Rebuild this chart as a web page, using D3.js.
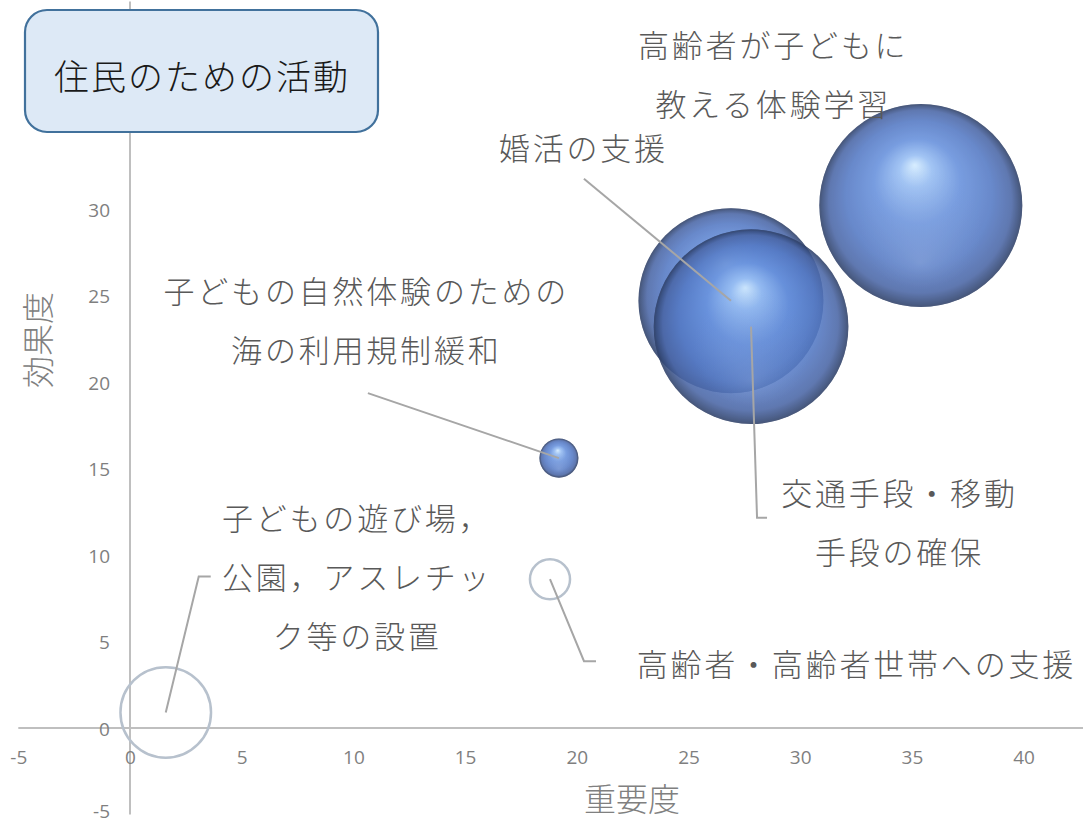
<!DOCTYPE html>
<html><head><meta charset="utf-8">
<script src="https://cdn.jsdelivr.net/npm/d3@7"></script>
<style>
html,body{margin:0;padding:0;background:#fff;}
svg{display:block;}
</style></head>
<body>
<svg id="chart" width="1083" height="823"></svg>
<script>
// ---- data ----
const names = [
  "子どもの遊び場，公園，アスレチック等の設置",
  "高齢者・高齢者世帯への支援",
  "子どもの自然体験のための海の利用規制緩和",
  "婚活の支援",
  "交通手段・移動手段の確保",
  "高齢者が子どもに教える体験学習"
];
const importance = [1.6, 18.8, 19.2, 26.9, 27.8, 35.4];   // 重要度 (x)
const effect     = [0.9, 8.6, 15.6, 24.7, 23.2, 30.2];    // 効果度 (y)
const bubbleSize = [-19.9, -3.9, 3.7, 83, 92, 100];      // negative = hollow
const labelLines = [
  ["子どもの遊び場，", "公園，アスレチッ", "ク等の設置"],
  ["高齢者・高齢者世帯への支援"],
  ["子どもの自然体験のための", "海の利用規制緩和"],
  ["婚活の支援"],
  ["交通手段・移動", "手段の確保"],
  ["高齢者が子どもに", "教える体験学習"]
];
const xTicks = [-5, 0, 5, 10, 15, 20, 25, 30, 35, 40];
const yTicks = [-5, 0, 5, 10, 15, 20, 25, 30, 35, 40];
const title = "住民のための活動";
const xTitle = "重要度";
const yTitle = "効果度";

// ---- layout (label placement relative to bubble centre, px) ----
const labelLayout = [
  {dx: 190, dy: -196, leader: [[33, -136], [45, -136]]},
  {dx: 305, dy: 83,   leader: [[34, 82], [46, 82]]},
  {dx: -194, dy: -169, leader: [[-191, -65]]},
  {dx: -149, dy: -155, leader: [[-147, -122]]},
  {dx: 147, dy: 164,  leader: [[6, 191], [16, 191]]},
  {dx: -149, dy: -163, leader: null}
];
const lineGap = 59;

const svg = d3.select("#chart");
const defs = svg.append("defs");

const x = d3.scaleLinear().domain([-5, 42.7]).range([18.3, 1083.9]);
const y = d3.scaleLinear().domain([-5, 42]).range([814.5, 1.4]);
const rMax = 101.5;
const r = d3.scaleSqrt().domain([0, d3.max(bubbleSize, d => Math.abs(d))]).range([0, rMax]);

// sphere gradient
const g1 = defs.append("radialGradient").attr("id", "sphere")
  .attr("cx", "0.5").attr("cy", "0.5").attr("r", "0.5")
  .attr("fx", "0.47").attr("fy", "0.3");
[["0%", "#d2ebff"], ["16%", "#96bdf3"], ["42%", "#6690dc"], ["72%", "#5479c4"], ["90%", "#4a66a6"], ["100%", "#2c3f68"]]
  .forEach(([o, c]) => g1.append("stop").attr("offset", o).attr("stop-color", c));
const g2 = defs.append("radialGradient").attr("id", "rim")
  .attr("cx", "0.5").attr("cy", "0.5").attr("r", "0.5")
  .attr("fx", "0.5").attr("fy", "0.78");
[["0%", "#8fabe0", 0.35], ["60%", "#7090d0", 0.0], ["100%", "#7090d0", 0]]
  .forEach(([o, c, a]) => g2.append("stop").attr("offset", o).attr("stop-color", c).attr("stop-opacity", a));

// axes
const axisColor = "#bfbfbf";
const tickColor = "#7f7f7f";
const axisG = svg.append("g");
axisG.append("line").attr("x1", x(-5)).attr("x2", 1083).attr("y1", y(0)).attr("y2", y(0))
  .attr("stroke", axisColor).attr("stroke-width", 2);
axisG.append("line").attr("x1", x(0)).attr("x2", x(0)).attr("y1", y(42)).attr("y2", y(-5))
  .attr("stroke", axisColor).attr("stroke-width", 2);

const fmt = d => String(d);
const xAxis = d3.axisBottom(x).tickValues(xTicks).tickSize(0).tickPadding(0).tickFormat(fmt);
const xa = svg.append("g").attr("transform", `translate(0,${y(0) + 29})`).call(xAxis);
xa.select(".domain").remove();
xa.selectAll("text").attr("fill", tickColor).attr("font-size", 19).attr("font-family", "'Open Sans', sans-serif")
  .attr("dy", "0").attr("dominant-baseline", "central");

const yAxis = d3.axisLeft(y).tickValues(yTicks).tickSize(0).tickPadding(0).tickFormat(fmt);
const ya = svg.append("g").attr("transform", `translate(${x(0) - 20},0)`).call(yAxis);
ya.select(".domain").remove();
ya.selectAll("text").attr("fill", tickColor).attr("font-size", 19).attr("font-family", "'Open Sans', sans-serif")
  .attr("dy", d => d === -5 ? "-4" : "0").attr("dominant-baseline", "central");

// axis titles
const jpFont = "'Noto Sans CJK JP', 'Noto Sans', sans-serif";
svg.append("text").attr("x", 632).attr("y", 797).attr("text-anchor", "middle").attr("dominant-baseline", "central")
  .attr("font-family", jpFont).attr("font-size", 32).attr("font-weight", 300).attr("fill", "#808080").text(xTitle);
svg.append("text").attr("transform", "translate(36,340) rotate(-90)").attr("text-anchor", "middle").attr("dominant-baseline", "central")
  .attr("font-family", jpFont).attr("font-size", 32).attr("font-weight", 300).attr("fill", "#808080").text(yTitle);

// bubbles
const data = names.map((n, i) => ({
  name: n, x: importance[i], y: effect[i], s: bubbleSize[i], lines: labelLines[i], lay: labelLayout[i]
}));
const bubbleG = svg.append("g");
data.forEach(d => {
  const cx = x(d.x), cy = y(d.y), rr = r(Math.abs(d.s));
  if (d.s < 0) {
    bubbleG.append("circle").attr("cx", cx).attr("cy", cy).attr("r", rr)
      .attr("fill", "none").attr("stroke", "#b7c1cd").attr("stroke-width", 2.5);
  } else {
    const gg = bubbleG.append("g").attr("opacity", 0.88);
    gg.append("circle").attr("cx", cx).attr("cy", cy).attr("r", rr).attr("fill", "url(#sphere)");
    gg.append("circle").attr("cx", cx).attr("cy", cy).attr("r", rr).attr("fill", "url(#rim)");
    gg.append("circle").attr("cx", cx).attr("cy", cy).attr("r", rr - 0.8)
      .attr("fill", "none").attr("stroke", "#34466c").attr("stroke-opacity", 0.55).attr("stroke-width", 1.3);
  }
});

// leader lines and labels
const lblG = svg.append("g");
data.forEach(d => {
  const cx = x(d.x), cy = y(d.y);
  if (d.lay.leader) {
    const pts = [[cx, cy]].concat(d.lay.leader.map(p => [cx + p[0], cy + p[1]]));
    lblG.append("path").attr("d", d3.line()(pts)).attr("fill", "none")
      .attr("stroke", "#a6a6a6").attr("stroke-width", 2);
  }
  const t = lblG.append("text").attr("text-anchor", "middle").attr("dominant-baseline", "central")
    .attr("font-family", jpFont).attr("font-size", 31).attr("font-weight", 300)
    .attr("letter-spacing", 2.8).attr("fill", "#595959");
  d.lines.forEach((ln, k) => {
    t.append("tspan").attr("x", cx + d.lay.dx + 1.4).attr("y", cy + d.lay.dy + k * lineGap).text(ln);
  });
});

// title box
svg.append("rect").attr("x", 25).attr("y", 10).attr("width", 353).attr("height", 122).attr("rx", 22).attr("ry", 22)
  .attr("fill", "#dde9f6").attr("stroke", "#41719c").attr("stroke-width", 2.2);
svg.append("text").attr("x", 202).attr("y", 74).attr("text-anchor", "middle").attr("dominant-baseline", "central")
  .attr("font-family", jpFont).attr("font-size", 35).attr("font-weight", 300).attr("letter-spacing", 2)
  .attr("fill", "#1a1a1a").text(title);
</script>
</body></html>
